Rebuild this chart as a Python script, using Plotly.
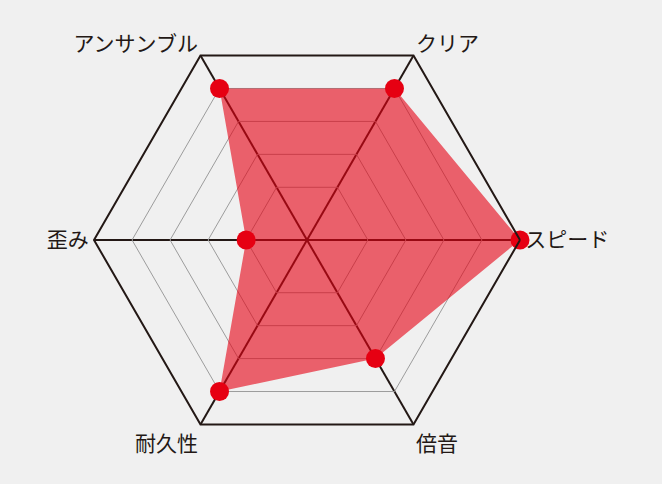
import plotly.graph_objects as go

# 項目と評価値（5段階）
labels = ["スピード", "クリア", "アンサンブル", "歪み", "耐久性", "倍音"]
scores = [5, 4, 4, 1, 4, 3]

ink = "#231815"
red = "#e60012"

# 閉じた多角形にするため最初の点を末尾に追加
theta = labels + labels[:1]
r = scores + scores[:1]

fig = go.Figure()

fig.add_trace(go.Scatterpolar(
    r=r,
    theta=theta,
    mode="lines",
    fill="toself",
    fillcolor="rgba(230,0,18,0.6)",
    line=dict(width=0, color="rgba(0,0,0,0)"),
    hoverinfo="skip",
    showlegend=False,
))

fig.add_trace(go.Scatterpolar(
    r=scores,
    theta=labels,
    mode="markers",
    marker=dict(size=19, color=red),
    showlegend=False,
))

fig.update_layout(
    width=662,
    height=484,
    margin=dict(l=0, r=0, t=0, b=0),
    paper_bgcolor="#f0f0f0",
    font=dict(family="Noto Sans CJK JP", size=21, color=ink),
    polar=dict(
        domain=dict(x=[94 / 662, 520 / 662], y=[31 / 484, 457 / 484]),
        bgcolor="#f0f0f0",
        gridshape="linear",
        radialaxis=dict(
            range=[-0.6, 5],
            tickvals=[1, 2, 3, 4, 5],
            showticklabels=False,
            ticks="",
            showline=False,
            gridcolor="#9c9c9c",
            gridwidth=1,
        ),
        angularaxis=dict(
            direction="counterclockwise",
            rotation=0,
            linecolor=ink,
            linewidth=2,
            gridcolor=ink,
            gridwidth=1.5,
            ticks="",
            tickfont=dict(size=21, color=ink),
        ),
    ),
)

# ページ余白を消して背景色を揃える
fig.write_html(
    "out.html",
    config={"displayModeBar": False},
    post_script="document.body.style.margin='0';document.body.style.background='#f0f0f0';",
)
